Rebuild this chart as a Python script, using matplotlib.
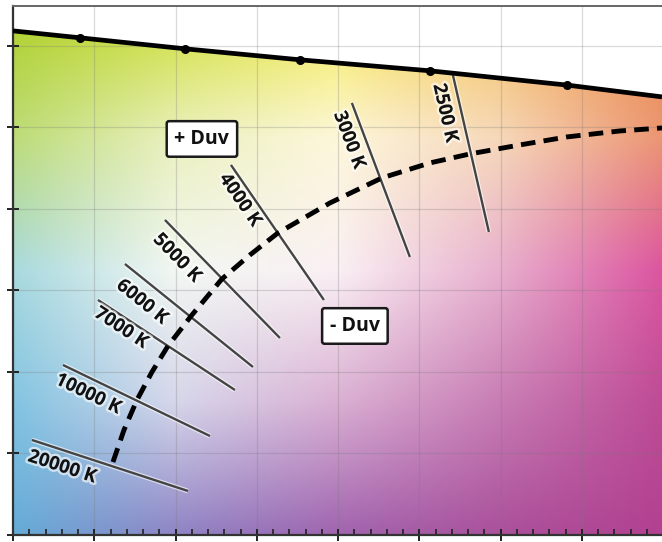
import numpy as np
import matplotlib
matplotlib.use('Agg')
import matplotlib.pyplot as plt
import matplotlib.patheffects as pe
from matplotlib.patches import Polygon
from matplotlib.ticker import MultipleLocator

# axis range (u', v')
x_min, x_max = 0.16, 0.3197
y_min, y_max = 0.40, 0.5298

# spectral locus (solid line at the top), markers on inner points
locus_u = [0.1600, 0.17648, 0.20231, 0.23060, 0.26258, 0.29628, 0.3197]
locus_v = [0.5237, 0.5220, 0.5193, 0.5166, 0.5139, 0.5104, 0.5075]

# planckian locus (dashed)
planck_u = [0.18460, 0.18731, 0.19050, 0.19419, 0.19813, 0.20403, 0.21141, 0.21830,
            0.22519, 0.23798, 0.25077, 0.26258, 0.27242, 0.28472, 0.29628, 0.30932, 0.3197]
planck_v = [0.41791, 0.42577, 0.43313, 0.44000, 0.44638, 0.45399, 0.46282, 0.46871,
            0.47411, 0.48147, 0.48761, 0.49129, 0.49350, 0.49571, 0.49767, 0.49914, 0.49988]

# isotemperature lines
cct_labels = ['20000 K', '10000 K', '7000 K', '6000 K', '5000 K', '4000 K', '3000 K', '2500 K']
iso_u0 = [0.16467, 0.17230, 0.18091, 0.18755, 0.19739, 0.21363, 0.24339, 0.26824]
iso_v0 = [0.42331, 0.44172, 0.45767, 0.46650, 0.47730, 0.49080, 0.50601, 0.51288]
iso_u1 = [0.20305, 0.20846, 0.21461, 0.21904, 0.22568, 0.23651, 0.25766, 0.27710]
iso_v1 = [0.41080, 0.42429, 0.43558, 0.44123, 0.44834, 0.45767, 0.46822, 0.47436]
label_u = [0.17205, 0.17845, 0.18657, 0.19173, 0.20034, 0.21584, 0.24266, 0.26627]
label_v = [0.41669, 0.43460, 0.45080, 0.45718, 0.46798, 0.48221, 0.49693, 0.50356]

duv_texts = ['+ Duv', '- Duv']
duv_u = [0.20649, 0.24413]
duv_v = [0.49718, 0.45129]

# rough colour field of the diagram (rows top -> bottom, cols left -> right)
bg_colors = np.array([
    [(175, 207, 38), (205, 222, 50), (245, 234, 80), (245, 192, 90), (235, 140, 70)],
    [(188, 220, 120), (234, 240, 190), (253, 247, 218), (246, 216, 186), (236, 150, 115)],
    [(168, 217, 222), (242, 247, 242), (250, 240, 244), (232, 176, 206), (220, 85, 160)],
    [(130, 196, 226), (214, 214, 234), (218, 176, 211), (200, 125, 180), (190, 75, 150)],
    [(100, 172, 216), (142, 132, 197), (160, 100, 175), (170, 80, 155), (178, 65, 145)],
]) / 255.0

fig = plt.figure(figsize=(6.62, 5.42), dpi=100)
ax = fig.add_axes([13 / 662, 7 / 542, 649 / 662, 529 / 542])

dx = (x_max - x_min) / 4
dy = (y_max - y_min) / 4
im = ax.imshow(bg_colors, extent=[x_min - dx / 2, x_max + dx / 2, y_min - dy / 2, y_max + dy / 2],
               origin='upper', interpolation='bilinear', aspect='auto', zorder=0)
clip = Polygon(list(zip([x_min - 0.01] + locus_u + [x_max + 0.01], [locus_v[0]] + locus_v + [locus_v[-1]]))
               + [(x_max + 0.01, y_min - 0.05), (x_min - 0.01, y_min - 0.05)],
               closed=True, transform=ax.transData)
im.set_clip_path(clip)

ax.set_xlim(x_min, x_max)
ax.set_ylim(y_min, y_max)

ax.xaxis.set_major_locator(MultipleLocator(0.02))
ax.xaxis.set_minor_locator(MultipleLocator(0.004))
ax.yaxis.set_major_locator(MultipleLocator(0.02))
ax.tick_params(which='major', direction='inout', length=8, width=1.4, color='#222222',
               labelbottom=False, labelleft=False)
ax.tick_params(axis='x', which='minor', direction='in', length=4, width=1.2, color='#222222')
ax.grid(True, which='major', color='#7a7a7a', alpha=0.28, lw=0.9)

for side in ['left', 'bottom']:
    ax.spines[side].set_color('#333333')
    ax.spines[side].set_linewidth(1.6)
ax.spines['top'].set_color('#666666')
ax.spines['top'].set_linewidth(1.4)
ax.spines['right'].set_visible(False)

# spectral locus
ax.plot(locus_u, locus_v, color='black', lw=3.4, marker='o', ms=5.5,
        markevery=[1, 2, 3, 4, 5], solid_capstyle='butt', zorder=4)

halo = [pe.withStroke(linewidth=3.5, foreground='white', alpha=0.6)]

# isotemperature lines + labels
for i in range(len(cct_labels)):
    ax.plot([iso_u0[i], iso_u1[i]], [iso_v0[i], iso_v1[i]], color='#444444', lw=1.7,
            solid_capstyle='butt', zorder=3, path_effects=halo)
    p0 = ax.transData.transform((iso_u0[i], iso_v0[i]))
    p1 = ax.transData.transform((iso_u1[i], iso_v1[i]))
    ang = np.degrees(np.arctan2(p1[1] - p0[1], p1[0] - p0[0]))
    ax.text(label_u[i], label_v[i], cct_labels[i], rotation=ang, rotation_mode='anchor',
            ha='center', va='center', fontsize=13.5, fontweight='bold',
            family=['Open Sans', 'DejaVu Sans'], color='#111111', zorder=5, path_effects=halo)

# planckian locus
ax.plot(planck_u, planck_v, color='black', lw=3.5, dashes=(3.0, 1.7), dash_capstyle='butt', zorder=4)

for t, u, v in zip(duv_texts, duv_u, duv_v):
    ax.text(u, v, t, ha='center', va='center', fontsize=14, fontweight='bold',
            family=['Open Sans', 'DejaVu Sans'], color='#111111', zorder=6,
            bbox=dict(boxstyle='round,pad=0.4,rounding_size=0.12', fc='white', ec='#1a1a1a', lw=1.8))

fig.savefig('out.png', dpi=100)
